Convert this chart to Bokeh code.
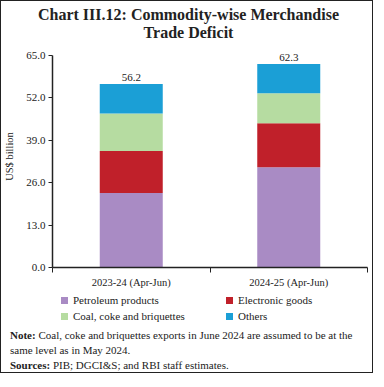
from bokeh.plotting import figure
from bokeh.layouts import column
from bokeh.models import (Range1d, FixedTicker, LabelSet, Div,
                          ColumnDataSource, NumeralTickFormatter)
from bokeh.embed import file_html
from bokeh.resources import INLINE

# ---- data ----
categories = ["2023-24 (Apr-Jun)", "2024-25 (Apr-Jun)"]
petroleum = [22.8, 30.7]
electronic = [12.9, 13.5]
coal = [11.5, 9.2]
others = [9.0, 8.9]
totals = [56.2, 62.3]
series_names = ["Petroleum products", "Electronic goods", "Coal, coke and briquettes", "Others"]
colors = ["#A98BC4", "#C0202A", "#B6DCA1", "#1B9FD6"]
y_ticks = [0, 13, 26, 39, 52, 65]
title_lines = ["Chart III.12: Commodity-wise Merchandise", "Trade Deficit"]
note_bold = "Note:"
note_text = ["Coal, coke and briquettes exports in June 2024 are assumed to be at the",
             "same level as in May 2024."]
src_bold = "Sources:"
src_text = "PIB; DGCI&amp;S; and RBI staff estimates."

SERIF = "Liberation Serif"
TXT = "#222222"
W = 371
H_T, H_C, H_N = 40, 250, 81
FL, FR = 50, 366        # frame left/right (px)
FT_C, FH = 4, 222       # frame top inside chart figure, frame height

FONT = "font-family:'%s',serif;color:%s;white-space:nowrap;" % (SERIF, TXT)

# ---- title ----
t_html = '<div style="position:relative;width:%dpx;height:%dpx;%s">' % (W, H_T, FONT)
for txt, cy in zip(title_lines, [14, 32]):
    t_html += ('<div style="position:absolute;left:4px;width:%dpx;top:%dpx;height:18px;'
               'line-height:18px;text-align:center;font-size:16px;font-weight:bold;%s">%s</div>'
               % (W - 4, cy - 9, FONT, txt))
t_html += "</div>"
title_div = Div(text=t_html, width=W, height=H_T, margin=0)

# ---- chart ----
p = figure(width=W, height=H_C, output_backend="svg", toolbar_location=None,
           x_range=Range1d(0, 2), y_range=Range1d(0, 68),
           min_border_left=FL, min_border_right=W - FR,
           min_border_top=FT_C, min_border_bottom=H_C - FT_C - FH)
p.outline_line_color = None
p.grid.visible = False

xs = [0.5 + i for i in range(len(categories))]
src = ColumnDataSource(dict(x=xs, petroleum=petroleum, electronic=electronic,
                            coal=coal, others=others, total=totals,
                            total_txt=["%.1f" % t for t in totals]))
rends = p.vbar_stack(["petroleum", "electronic", "coal", "others"], x="x", width=0.4,
                     color=colors, line_color=None, source=src)

p.add_layout(LabelSet(x="x", y="total", text="total_txt", source=src, text_align="center",
                      text_baseline="bottom", y_offset=3, text_font=SERIF,
                      text_font_size="11px", text_color=TXT))

yax = p.yaxis[0]
yax.bounds = (0, 65)
yax.ticker = FixedTicker(ticks=y_ticks)
yax.formatter = NumeralTickFormatter(format="0.0")
yax.major_tick_out = 4
yax.major_tick_in = 0
yax.minor_tick_out = 0
yax.minor_tick_in = 0
yax.axis_line_width = 1.5
yax.axis_line_color = TXT
yax.major_tick_line_color = TXT
yax.major_label_text_font = SERIF
yax.major_label_text_font_size = "11px"
yax.major_label_text_color = TXT
yax.major_label_standoff = 3
yax.axis_label = "US$ billion"
yax.axis_label_text_font = SERIF
yax.axis_label_text_font_size = "10.5px"
yax.axis_label_text_font_style = "normal"
yax.axis_label_text_color = TXT
yax.axis_label_standoff = 8

xax = p.xaxis[0]
xax.ticker = FixedTicker(ticks=xs, minor_ticks=[0, 1, 2])
xax.major_label_overrides = {x: c for x, c in zip(xs, categories)}
xax.major_tick_out = 0
xax.major_tick_in = 0
xax.minor_tick_out = 5
xax.minor_tick_in = 0
xax.minor_tick_line_color = TXT
xax.axis_line_width = 1.5
xax.axis_line_color = TXT
xax.major_label_text_font = SERIF
xax.major_label_text_font_size = "10.5px"
xax.major_label_text_color = TXT
xax.major_label_standoff = 4

# ---- legend + notes ----
n_html = '<div style="position:relative;width:%dpx;height:%dpx;font-size:11px;%s">' % (W, H_N, FONT)
leg_pos = [(60, 9), (225, 9), (60, 25), (225, 25)]  # order: series_names
for name, col, (lx, cy) in zip(series_names, colors, leg_pos):
    n_html += ('<div style="position:absolute;left:%dpx;top:%dpx;height:7px;width:7px;background:%s;"></div>'
               % (lx, cy - 3, col))
    n_html += ('<div style="position:absolute;left:%dpx;top:%dpx;height:16px;line-height:16px;'
               'font-size:11px;%s">%s</div>'
               % (lx + 12, cy - 8, FONT, name))
lines = ["<b>%s</b> %s" % (note_bold, note_text[0]), note_text[1],
         "<b>%s</b> %s" % (src_bold, src_text)]
for ln, cy in zip(lines, [44, 59.5, 74.5]):
    n_html += ('<div style="position:absolute;left:9px;top:%.1fpx;height:15px;line-height:15px;'
               'font-size:11px;%s">%s</div>'
               % (cy - 7.5, FONT, ln))
n_html += "</div>"
notes_div = Div(text=n_html, width=W, height=H_N, margin=0)

layout = column(title_div, p, notes_div, spacing=0,
                styles={"border": "1px solid #222", "background": "white"})
open("out.html", "w").write(file_html(layout, INLINE))
